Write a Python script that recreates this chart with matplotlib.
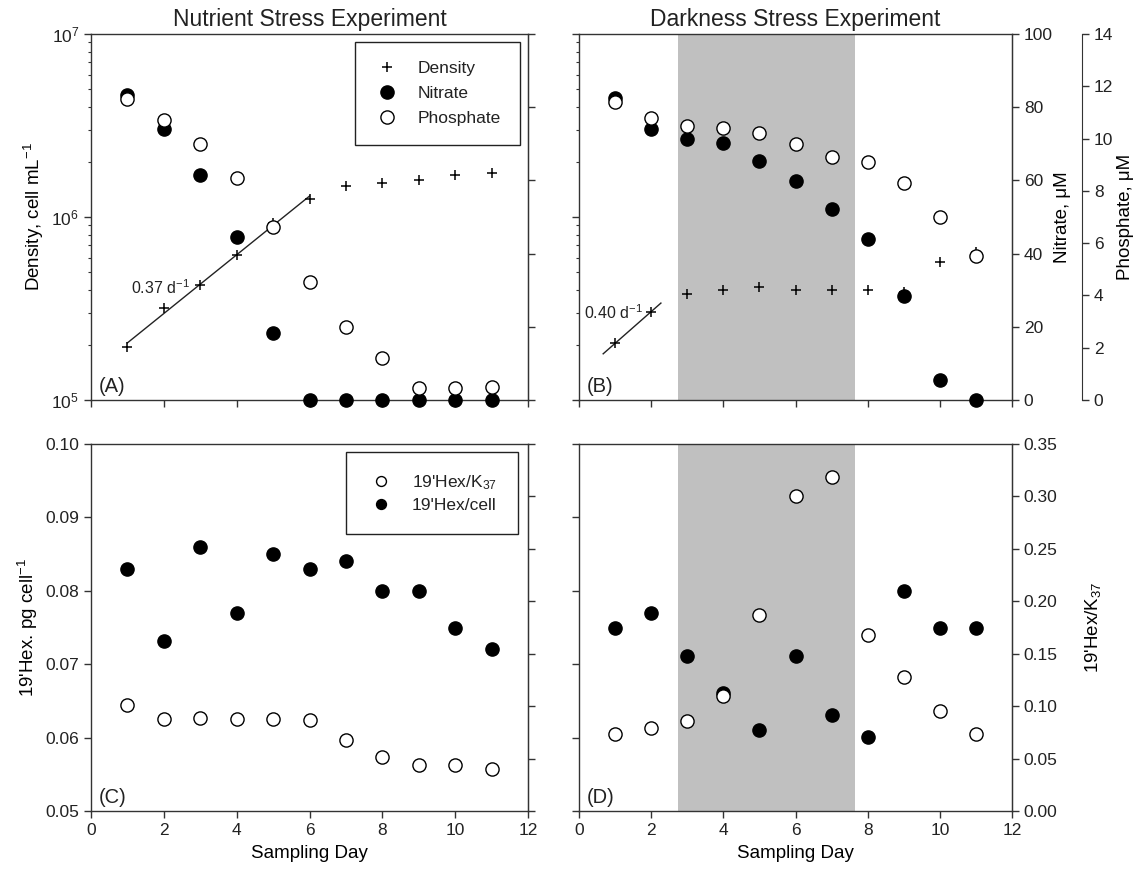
import numpy as np
import matplotlib
matplotlib.use("Agg")
import matplotlib.pyplot as plt
from matplotlib.lines import Line2D
from matplotlib.ticker import NullFormatter

plt.rcParams['font.family'] = ['Liberation Sans', 'DejaVu Sans']
plt.rcParams['mathtext.fontset'] = 'custom'
plt.rcParams['mathtext.rm'] = 'Liberation Sans'
plt.rcParams['mathtext.it'] = 'Liberation Sans:italic'
plt.rcParams['mathtext.default'] = 'regular'
plt.rcParams['font.size'] = 12
plt.rcParams['text.color'] = '#222222'
plt.rcParams['axes.edgecolor'] = '#333333'
plt.rcParams['xtick.color'] = '#333333'
plt.rcParams['ytick.color'] = '#333333'
plt.rcParams['xtick.labelcolor'] = '#222222'
plt.rcParams['ytick.labelcolor'] = '#222222'

days = np.arange(1, 12)

# nutrient stress experiment
nut_density = [1.94e5, 3.18e5, 4.27e5, 6.18e5, 9.3e5, 1.256e6, 1.47e6, 1.53e6, 1.59e6, 1.70e6, 1.75e6]
nut_nitrate = [83.2, 74.1, 61.5, 44.6, 18.3, 0, 0, 0, 0, 0, 0]
nut_phosphate = [11.5, 10.7, 9.8, 8.5, 6.6, 4.5, 2.8, 1.6, 0.47, 0.47, 0.5]
nut_hex_cell = [0.0830, 0.0731, 0.0860, 0.0770, 0.0850, 0.0830, 0.0840, 0.0800, 0.0800, 0.0750, 0.0721]
nut_hex_k37 = [0.101, 0.088, 0.089, 0.088, 0.088, 0.087, 0.068, 0.0515, 0.044, 0.044, 0.040]

# darkness stress experiment
dark_density = [2.04e5, 3.04e5, 3.81e5, 4.0e5, 4.14e5, 4.0e5, 4.0e5, 4.0e5, 3.9e5, 5.68e5, 6.4e5]
dark_nitrate = [82.6, 74.1, 71.2, 70.2, 65.4, 59.7, 52.3, 43.9, 28.4, 5.5, 0]
dark_phosphate = [11.4, 10.8, 10.5, 10.4, 10.2, 9.8, 9.3, 9.1, 8.3, 7.0, 5.5]
dark_hex_cell = [0.0750, 0.0770, 0.0711, 0.0661, 0.0611, 0.0711, 0.0631, 0.0601, 0.0800, 0.0750, 0.0750]
dark_hex_k37 = [0.0738, 0.0789, 0.0859, 0.110, 0.187, 0.300, 0.319, 0.168, 0.128, 0.0955, 0.0738]

dark_start, dark_end = 2.75, 7.65
nut_rate = "0.37 d$^{-1}$"
dark_rate = "0.40 d$^{-1}$"

TICK = 12.5
LAB = 13.5
W, H = 1148, 875
fig = plt.figure(figsize=(W / 100, H / 100), dpi=100)


def box(x0, y0, x1, y1):
    return [x0 / W, 1 - y1 / H, (x1 - x0) / W, (y1 - y0) / H]


axA = fig.add_axes(box(91, 34, 528, 400))
axB = fig.add_axes(box(579, 34, 1012, 400))
axC = fig.add_axes(box(91, 444, 528, 811))
axD = fig.add_axes(box(579, 444, 1012, 811))

tk = dict(direction='out', length=5, width=1, labelsize=TICK)
mtk = dict(direction='out', length=2.5, width=0.8)

plus = dict(marker='+', ls='none', color='k', ms=7, mew=1.1, zorder=4)
filled = dict(marker='o', ls='none', mfc='k', mec='k', ms=9.5, mew=1, clip_on=False, zorder=5)
hollow = dict(marker='o', ls='none', mfc='white', mec='k', ms=9.5, mew=1, clip_on=False, zorder=6)

for ax in (axA, axB, axC, axD):
    ax.set_xlim(0, 12)
    ax.set_xticks(np.arange(0, 13, 2))
    ax.tick_params(axis='both', which='major', **tk)
    ax.tick_params(axis='both', which='minor', **mtk)
    ax.tick_params(top=False, right=False)
    for s in ax.spines.values():
        s.set_linewidth(1)

# ---- top row: density (log) + nutrients
for ax, dens, nitr, phos, label, title in (
        (axA, nut_density, nut_nitrate, nut_phosphate, '(A)', 'Nutrient Stress Experiment'),
        (axB, dark_density, dark_nitrate, dark_phosphate, '(B)', 'Darkness Stress Experiment')):
    ax.set_yscale('log')
    ax.set_ylim(1e5, 1e7)
    ax.xaxis.set_major_formatter(NullFormatter())
    ax.plot(days, dens, **plus)
    ax.set_title(title, fontsize=16.5, pad=6)
    ax.text(0.018, 0.012, label, transform=ax.transAxes, fontsize=14.5, ha='left', va='bottom')

    ax2 = ax.twinx()
    ax2.set_ylim(0, 100)
    ax2.set_yticks(np.arange(0, 101, 20))
    ax2.tick_params(axis='y', **tk)
    ax2.plot(days, nitr, **filled)
    ax3 = ax.twinx()
    ax3.set_ylim(0, 14)
    ax3.set_yticks(np.arange(0, 15, 2))
    ax3.tick_params(axis='y', **tk)
    ax3.plot(days, phos, **hollow)
    for a in (ax2, ax3):
        for k in ('top', 'bottom', 'left'):
            a.spines[k].set_visible(False)
    ax.plot_axes = (ax2, ax3)

axA2, axA3 = axA.plot_axes
axB2, axB3 = axB.plot_axes

# growth fits
fa = np.polyfit(days[:6], np.log10(nut_density[:6]), 1)
xa = np.array([1.0, 6.0])
axA.plot(xa, 10 ** np.polyval(fa, xa), color='#222222', lw=1, zorder=3)
axA.text(1.1, 4.1e5, nut_rate, fontsize=11.5, ha='left', va='center')

fb = np.polyfit(days[:2], np.log10(dark_density[:2]), 1)
xb = np.array([0.67, 2.27])
axB.plot(xb, 10 ** np.polyval(fb, xb), color='#222222', lw=1, zorder=3)
axB.text(0.15, 3.0e5, dark_rate, fontsize=11.5, ha='left', va='center')

# A: nitrate axis ticks only, phosphate hidden
axA2.yaxis.set_major_formatter(NullFormatter())
axA3.axis('off')
axA.set_ylabel('Density, cell mL$^{-1}$', fontsize=LAB, labelpad=4)

# B: left unlabeled log ticks, right nitrate and offset phosphate
axB.yaxis.set_major_formatter(NullFormatter())
axB.yaxis.set_minor_formatter(NullFormatter())
axB.axvspan(dark_start, dark_end, color='#c0c0c0', lw=0, zorder=0)
axB2.set_ylabel('Nitrate, \u03bcM', fontsize=LAB, labelpad=1)
axB3.spines['right'].set_position(('axes', 1 + (1082 - 1012) / (1012 - 579)))
axB3.set_ylabel('Phosphate, \u03bcM', fontsize=LAB, labelpad=3)


def handle(style):
    return Line2D([], [], **{k: v for k, v in style.items() if k not in ('zorder', 'clip_on')})


legA = axA3.legend(
    handles=[handle(plus), handle(filled), handle(hollow)],
    labels=['Density', 'Nitrate', 'Phosphate'],
    loc='upper right', bbox_to_anchor=(0.982, 0.978), borderaxespad=0,
    frameon=True, fancybox=False, edgecolor='#222222', framealpha=1,
    fontsize=12.5, borderpad=1.1, handlelength=1.5, handletextpad=1.0, labelspacing=0.55)
legA.get_frame().set_linewidth(1)

# ---- bottom row: pigment ratios
for ax, cell, k37, label in ((axC, nut_hex_cell, nut_hex_k37, '(C)'),
                             (axD, dark_hex_cell, dark_hex_k37, '(D)')):
    ax.set_ylim(0.05, 0.10)
    ax.set_yticks(np.arange(0.05, 0.1001, 0.01))
    ax.yaxis.set_major_formatter(plt.FuncFormatter(lambda v, p: f'{v:.2f}'))
    ax.plot(days, cell, **filled)
    ax.set_xlabel('Sampling Day', fontsize=LAB, labelpad=5)
    ax.text(0.018, 0.012, label, transform=ax.transAxes, fontsize=14.5, ha='left', va='bottom')
    ax2 = ax.twinx()
    ax2.set_ylim(0, 0.35)
    ax2.set_yticks(np.arange(0, 0.351, 0.05))
    ax2.yaxis.set_major_formatter(plt.FuncFormatter(lambda v, p: f'{v:.2f}'))
    ax2.tick_params(axis='y', **tk)
    for k in ('top', 'bottom', 'left'):
        ax2.spines[k].set_visible(False)
    ax2.plot(days, k37, **hollow)
    ax.plot_axes = ax2

axC.set_ylabel("19'Hex. pg cell$^{-1}$", fontsize=LAB, labelpad=4)
axC.plot_axes.yaxis.set_major_formatter(NullFormatter())
axD.yaxis.set_major_formatter(NullFormatter())
axD.axvspan(dark_start, dark_end, color='#c0c0c0', lw=0, zorder=0)
axD.plot_axes.set_ylabel("19'Hex/K$_{37}$", fontsize=LAB, labelpad=18)

legC = axC.plot_axes.legend(
    handles=[handle(hollow), handle(filled)],
    labels=["19'Hex/K$_{37}$", "19'Hex/cell"],
    loc='upper right', bbox_to_anchor=(0.977, 0.978), borderaxespad=0,
    frameon=True, fancybox=False, edgecolor='#222222', framealpha=1,
    fontsize=12.5, borderpad=1.2, handlelength=1.6, handletextpad=1.0, labelspacing=0.35,
    markerscale=0.75)
legC.get_frame().set_linewidth(1)

fig.savefig('out.png', dpi=100)
